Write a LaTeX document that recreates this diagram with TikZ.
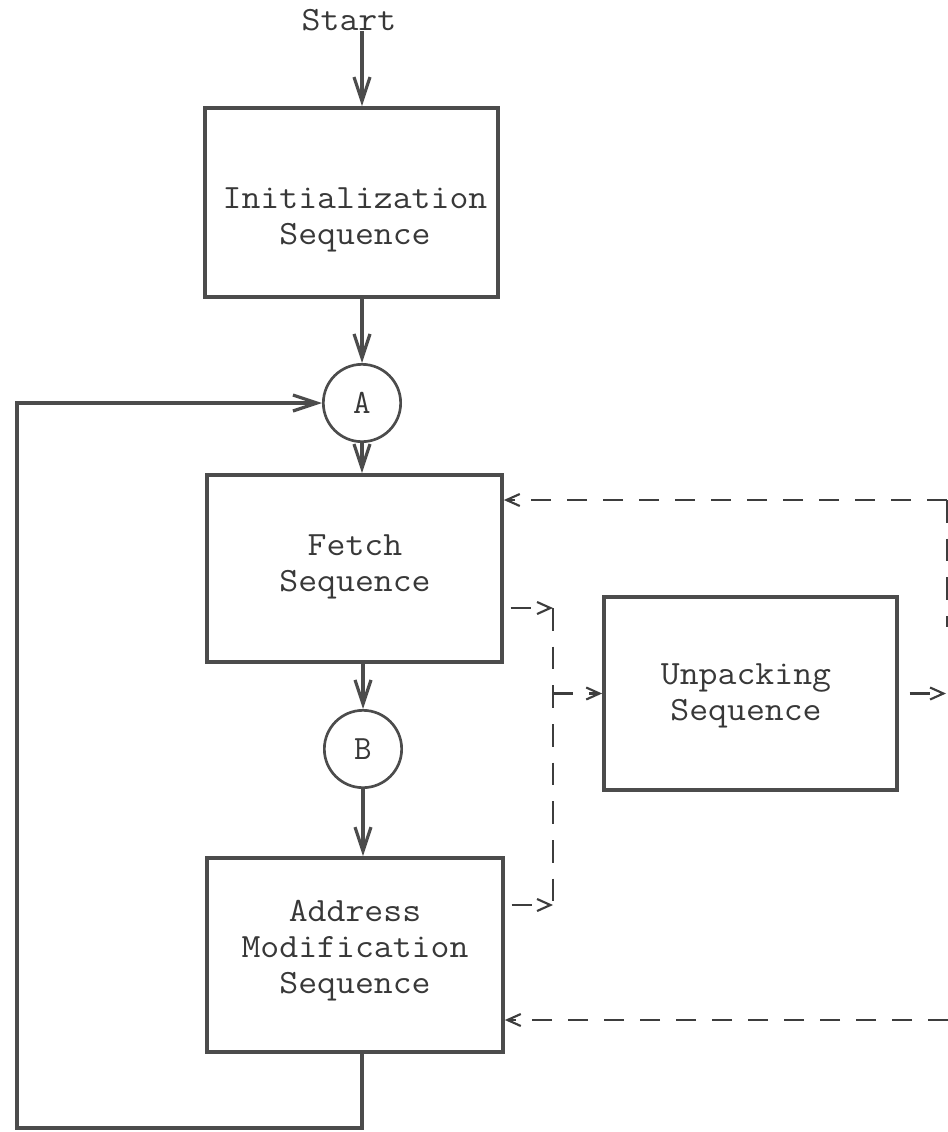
\documentclass[tikz,border=0pt]{standalone}
\usepackage{graphicx}
\usetikzlibrary{arrows.meta,calc}
\definecolor{ink}{gray}{0.3}
\definecolor{txtink}{gray}{0.22}
% typewriter lines set slightly wider
\newcommand\wideline[1]{\scalebox{1.08}[1]{#1}}
\begin{document}
\begin{tikzpicture}[x=0.75pt,y=-0.75pt,
  font=\ttfamily\fontsize{25.5}{27}\selectfont,
  seqbox/.style={draw=ink,line width=2.8pt,rectangle,inner sep=0pt},
  label/.style={text=txtink,align=center,inner sep=0pt},
  junction/.style={draw=ink,line width=2pt,circle,minimum size=58pt,inner sep=0pt,text=txtink},
  flow/.style={draw=ink,line width=2.8pt,-{Straight Barb[length=18pt,width=12pt,line width=2.4pt]}},
  dataflow/.style={draw=ink!80!black,line width=1.8pt,dash pattern=on 15pt off 12pt,
    -{Straight Barb[length=10pt,width=9pt,line width=1.6pt]}},
  databus/.style={draw=ink!80!black,line width=1.8pt,dash pattern=on 17pt off 12pt}]
\useasboundingbox (0,0) rectangle (948,1132);

% sequence boxes
\node[seqbox,minimum width=219.75pt,minimum height=141.75pt] (init) at (351.5,202.5) {};
\node[seqbox,minimum width=221.25pt,minimum height=140.25pt] (fetch) at (354.5,568.5) {};
\node[seqbox,minimum width=222pt,minimum height=145.5pt] (addr) at (355,955) {};
\node[seqbox,minimum width=219.75pt,minimum height=144.75pt] (unpack) at (750.5,693.5) {};

% box captions
\node[label] (initT) at (355,220) {\wideline{Initialization}\\\wideline{Sequence}};
\node[label] (fetchT) at (355,567) {\wideline{Fetch}\\\wideline{Sequence}};
\node[label] (addrT) at (355,951) {\wideline{Address}\\\wideline{Modification}\\\wideline{Sequence}};
\node[label] (unpackT) at (746,696) {\wideline{Unpacking}\\\wideline{Sequence}};

% entry point and connectors
\node[label] (start) at (349,20) {\wideline{Start}};
\node[junction] (A) at (362,403) {A};
\node[junction] (B) at (363,749) {B};

% main control flow
\draw[flow] (A |- start.south) -- (A |- init.north);
\draw[flow] (A |- init.south) -- (A.north);
\draw[flow] (A.south) -- (A |- fetch.north);
\draw[flow] (B |- fetch.south) -- (B.north);
\draw[flow] (B.south) -- (B |- addr.north);

% loop back from address modification to A
\coordinate (loopBL) at (17,1128);
\draw[flow] (A |- addr.south) -- (A |- loopBL) -- (loopBL) |- (A.west);

% dashed data paths to the unpacking sequence
\coordinate (busT) at (553,608);
\coordinate (busB) at (553,905);
\draw[dataflow,dash phase=-5pt] (fetch.east |- busT) -- (busT);
\draw[dataflow,dash phase=-5pt] (addr.east |- busB) -- (busB);
\draw[databus] (busT) -- (busB);
\draw[dataflow] (busT |- unpack.west) -- (unpack.west);

% return paths on the right
\coordinate (retTop) at (947,500);
\coordinate (retMid) at (947,627);
\coordinate (retOut) at (946,693.5);
\coordinate (retBot) at (948,1020);
\draw[dataflow,dash phase=-8pt] (unpack.east) -- (retOut);
\draw[dataflow] (retTop) -- (fetch.east |- retTop);
\draw[databus] (retTop) -- (retMid);
\draw[dataflow] (retBot) -- (addr.east |- retBot);
\end{tikzpicture}
\end{document}
